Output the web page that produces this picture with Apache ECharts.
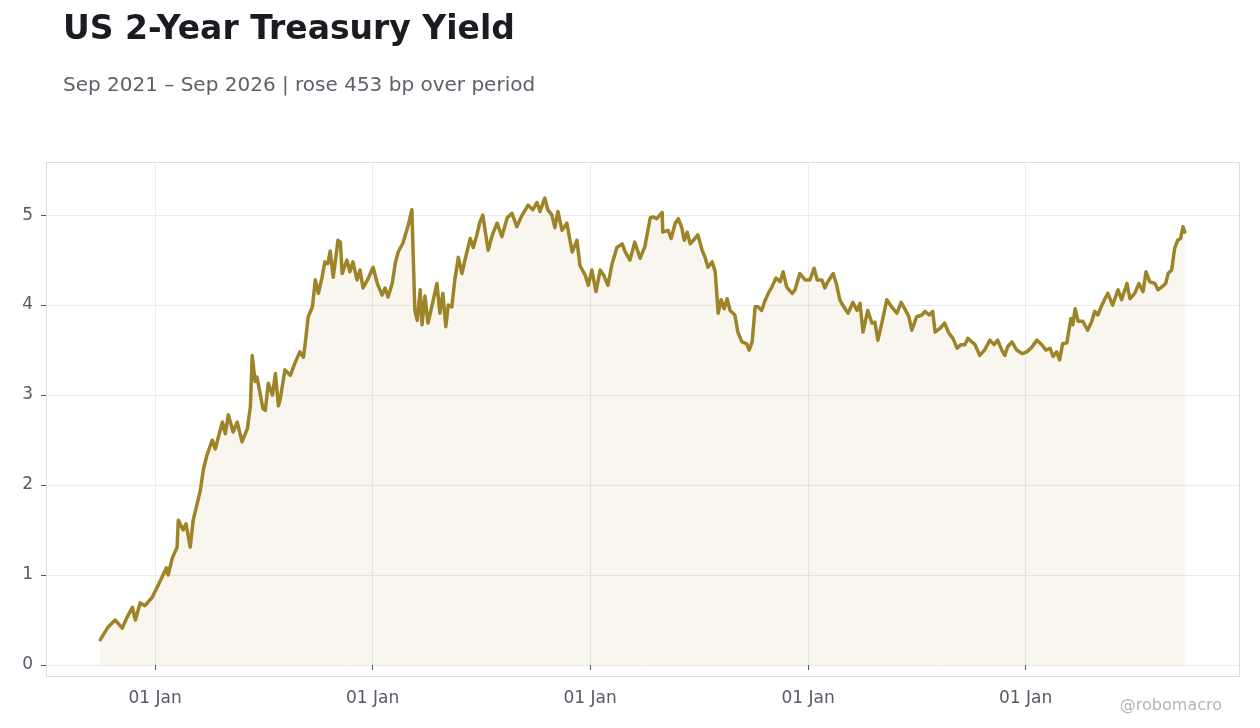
<!DOCTYPE html>
<html>
<head>
<meta charset="utf-8">
<title>US 2-Year Treasury Yield</title>
<script src="https://cdn.jsdelivr.net/npm/echarts@6/dist/echarts.min.js"></script>
<style>
  html, body { margin: 0; padding: 0; background: #fff; }
  #chart { width: 1260px; height: 728px; }
</style>
</head>
<body>
<div id="chart"></div>
<script>
// days counted from startDate
var startDate = '2021-10-01';
var dayOffsets = [
  0, 13, 25, 37, 45, 54, 59, 67, 75, 87, 96, 104, 111, 114, 121, 129, 131, 139, 144, 151,
  156, 163, 168, 173, 179, 188, 193, 205, 210, 215, 223, 230, 238, 247, 252, 255, 260, 263, 268, 273,
  277, 282, 289, 294, 299, 302, 307, 310, 319, 327, 335, 341, 344, 349, 356, 361, 366, 372, 377, 382,
  386, 391, 399, 403, 406, 414, 419, 424, 431, 436, 441, 450, 458, 465, 473, 478, 483, 490, 495, 500,
  508, 517, 523, 525, 528, 532, 537, 540, 545, 550, 557, 565, 570, 575, 580, 584, 590, 595, 601, 607,
  612, 621, 626, 632, 637, 642, 651, 658, 666, 674, 683, 691, 699, 708, 718, 726, 733, 738, 746, 751,
  758, 763, 768, 775, 783, 792, 800, 805, 814, 819, 825, 832, 839, 845, 852, 859, 867, 876, 881, 889,
  897, 906, 914, 923, 928, 934, 943, 944, 953, 958, 965, 970, 976, 980, 985, 990, 998, 1003, 1010, 1015,
  1020, 1027, 1032, 1037, 1042, 1047, 1052, 1057, 1065, 1070, 1077, 1085, 1089, 1094, 1099, 1104, 1110, 1115, 1121, 1127,
  1134, 1141, 1146, 1152, 1161, 1166, 1174, 1183, 1191, 1198, 1203, 1211, 1216, 1221, 1230, 1236, 1241, 1246, 1255, 1263,
  1270, 1275, 1280, 1288, 1295, 1300, 1305, 1312, 1320, 1328, 1337, 1344, 1350, 1357, 1362, 1370, 1379, 1384, 1391, 1397,
  1401, 1409, 1417, 1424, 1431, 1438, 1444, 1451, 1456, 1463, 1468, 1476, 1484, 1493, 1500, 1506, 1513, 1518, 1523, 1530,
  1538, 1547, 1555, 1563, 1572, 1580, 1587, 1594, 1599, 1605, 1610, 1615, 1622, 1629, 1632, 1636, 1641, 1649, 1657, 1664,
  1669, 1674, 1681, 1686, 1691, 1699, 1708, 1714, 1723, 1728, 1736, 1743, 1750, 1755, 1761, 1770, 1775, 1781, 1788, 1792,
  1798, 1803, 1808, 1813, 1817, 1820
];
var yields = [
  0.28, 0.42, 0.50, 0.41, 0.53, 0.64, 0.50, 0.69, 0.66, 0.75, 0.87, 0.98, 1.08, 1.00, 1.19, 1.31, 1.61, 1.50, 1.57, 1.31,
  1.61, 1.80, 1.94, 2.17, 2.33, 2.50, 2.40, 2.70, 2.57, 2.78, 2.59, 2.70, 2.48, 2.63, 2.87, 3.44, 3.15, 3.20, 3.03, 2.85,
  2.83, 3.13, 3.00, 3.24, 2.88, 2.95, 3.16, 3.28, 3.22, 3.36, 3.48, 3.42, 3.57, 3.87, 3.98, 4.28, 4.13, 4.30, 4.48, 4.46,
  4.60, 4.31, 4.72, 4.70, 4.35, 4.50, 4.37, 4.48, 4.28, 4.39, 4.19, 4.30, 4.42, 4.24, 4.11, 4.19, 4.09, 4.24, 4.46, 4.59,
  4.69, 4.89, 5.06, 4.60, 3.94, 3.83, 4.17, 3.78, 4.10, 3.80, 4.00, 4.24, 3.91, 4.13, 3.76, 4.00, 3.98, 4.28, 4.53, 4.35,
  4.50, 4.74, 4.64, 4.78, 4.92, 5.00, 4.61, 4.78, 4.91, 4.76, 4.97, 5.02, 4.87, 5.00, 5.11, 5.06, 5.14, 5.04, 5.19, 5.06,
  5.00, 4.86, 5.04, 4.83, 4.91, 4.59, 4.72, 4.44, 4.33, 4.22, 4.39, 4.15, 4.39, 4.33, 4.22, 4.46, 4.64, 4.68, 4.59, 4.50,
  4.70, 4.52, 4.65, 4.97, 4.98, 4.96, 5.03, 4.81, 4.83, 4.74, 4.91, 4.96, 4.86, 4.72, 4.81, 4.68, 4.74, 4.78, 4.61, 4.53,
  4.42, 4.48, 4.37, 3.91, 4.06, 3.96, 4.07, 3.94, 3.89, 3.70, 3.59, 3.57, 3.50, 3.59, 3.98, 3.98, 3.94, 4.04, 4.13, 4.20,
  4.30, 4.26, 4.37, 4.20, 4.13, 4.17, 4.35, 4.28, 4.28, 4.41, 4.28, 4.28, 4.19, 4.26, 4.35, 4.22, 4.06, 4.00, 3.91, 4.03,
  3.94, 4.02, 3.70, 3.94, 3.80, 3.81, 3.61, 3.81, 4.06, 3.98, 3.91, 4.03, 3.96, 3.87, 3.72, 3.87, 3.89, 3.93, 3.89, 3.93,
  3.70, 3.74, 3.80, 3.69, 3.63, 3.52, 3.56, 3.56, 3.63, 3.59, 3.56, 3.44, 3.50, 3.61, 3.56, 3.61, 3.50, 3.44, 3.54, 3.59,
  3.50, 3.46, 3.48, 3.53, 3.61, 3.56, 3.50, 3.52, 3.43, 3.48, 3.39, 3.57, 3.58, 3.85, 3.78, 3.96, 3.82, 3.82, 3.72, 3.82,
  3.93, 3.89, 4.00, 4.07, 4.13, 4.00, 4.17, 4.06, 4.24, 4.07, 4.13, 4.24, 4.15, 4.37, 4.26, 4.24, 4.17, 4.20, 4.24, 4.35,
  4.39, 4.63, 4.72, 4.74, 4.87, 4.81
];
var yTicks = [0, 1, 2, 3, 4, 5];

var DAY = 86400000;
var t0 = new Date(startDate + 'T00:00:00').getTime();
var seriesData = dayOffsets.map(function (d, i) {
  return [t0 + d * DAY, yields[i]];
});

var chart = echarts.init(document.getElementById('chart'));
var font = 'DejaVu Sans';

var option = {
  backgroundColor: '#ffffff',
  animation: false,
  textStyle: { fontFamily: font },
  title: [
    {
      text: 'US 2-Year Treasury Yield',
      left: 58, top: 9,
      textStyle: { fontFamily: font, fontSize: 33, fontWeight: 'bold', color: '#1b1b21' }
    },
    {
      text: 'Sep 2021 \u2013 Sep 2026 | rose 453 bp over period',
      left: 58, top: 71,
      textStyle: { fontFamily: font, fontSize: 20, fontWeight: 'normal', color: '#5f6069' }
    }
  ],
  grid: { left: 46, right: 21, top: 162, bottom: 63 },
  xAxis: {
    type: 'time',
    min: t0 - 91 * DAY,
    max: t0 + 1911 * DAY,
    offset: 11,
    axisLine: { show: false },
    axisTick: { show: true, length: 5, lineStyle: { color: '#555a66' } },
    axisLabel: {
      margin: 14,
      fontSize: 17,
      color: '#555a66',
      fontFamily: font,
      formatter: function (v) {
        var d = new Date(v);
        return (d.getMonth() === 0 && d.getDate() === 1) ? '01 Jan' : '';
      }
    },
    splitLine: { show: true, lineStyle: { color: '#ebebeb', width: 1 } }
  },
  yAxis: {
    type: 'value',
    min: yTicks[0],
    max: 5.59,
    interval: 1,
    axisLine: { show: false },
    axisTick: { show: true, length: 5, lineStyle: { color: '#555a66' } },
    axisLabel: {
      margin: 13,
      fontSize: 17,
      color: '#555a66',
      fontFamily: font,
      showMaxLabel: false,
      formatter: function (v) {
        return yTicks.indexOf(v) >= 0 ? String(v) : '';
      }
    },
    splitLine: { show: true, lineStyle: { color: '#ebebeb', width: 1 } }
  },
  series: [
    {
      type: 'line',
      data: seriesData,
      showSymbol: false,
      lineStyle: { color: '#9e8428', width: 3.5, join: 'round', cap: 'round' },
      itemStyle: { color: '#9e8428' },
      areaStyle: { color: 'rgba(175, 140, 60, 0.11)' },
      z: 3
    }
  ],
  graphic: [
    {
      type: 'rect',
      shape: { x: 46.5, y: 162.5, width: 1193, height: 514 },
      style: { fill: 'none', stroke: '#dedede', lineWidth: 1 },
      silent: true,
      z: 10
    },
    {
      type: 'text',
      right: 38, bottom: 14,
      style: { text: '@robomacro', font: '16px "DejaVu Sans"', fill: '#b4b4ba' },
      silent: true
    }
  ]
};

chart.setOption(option);
</script>
</body>
</html>
